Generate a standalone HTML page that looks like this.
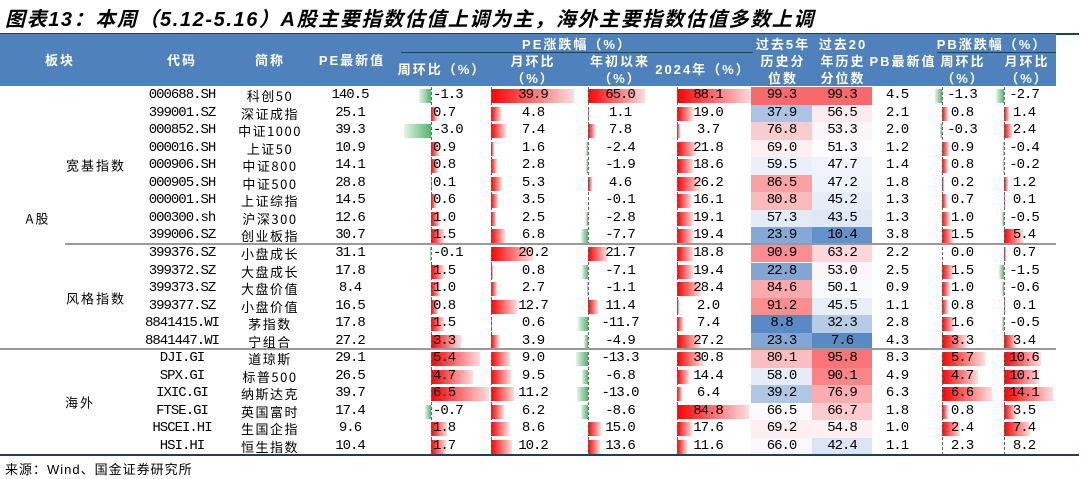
<!DOCTYPE html>
<html><head><meta charset="utf-8"><style>
*{margin:0;padding:0;box-sizing:border-box}
body{width:1086px;height:479px;background:#fff;position:relative;overflow:hidden;font-family:"Liberation Mono","Noto Sans CJK SC",monospace;color:#000}
.title{position:absolute;left:5px;top:3px;font:italic bold 20px "Liberation Sans","Noto Sans CJK SC",sans-serif;letter-spacing:1.6px;white-space:nowrap}
.hd{position:absolute;left:0;top:34px;width:1056px;height:52px;background:#4f81bd}
.ht{position:absolute;color:#fff;font:bold 13px "Liberation Sans","Noto Sans CJK SC",sans-serif;letter-spacing:2px;text-align:center;width:100px;line-height:17px;white-space:nowrap}
.hl{position:absolute;height:1px;background:#1f3f5f}
.r{position:absolute;left:0;width:1086px;height:17.55px}
.r i{position:absolute;top:0;height:17.55px;line-height:17.55px;font-style:normal;font-size:14px;letter-spacing:-1px;text-align:center;white-space:nowrap}
.k{left:137px;width:90px}
.nm{left:225px;width:90px;font-family:"Noto Sans CJK SC",sans-serif!important;font-size:13px!important;letter-spacing:1.5px!important;overflow:hidden}
.pe{left:310px;width:80px}
.wk{left:433px;text-align:left!important}
.mo{left:493px;width:80px}
.yt{left:580px;width:80px}
.y4{left:668px;width:80px}
.h5{left:751px;width:61px}
.h20{left:812px;width:60px}
.pb{left:860px;width:74px}
.pw{left:922px;width:80px}
.pm{left:984px;width:80px}
.r b{position:absolute;top:2px;height:14px}
.p{background:linear-gradient(90deg,#ff0000,#ffdede)}
.n{background:linear-gradient(270deg,#52b56c,#e4f4e8)}
.ax{position:absolute;top:87px;height:368px;width:0;border-left:1px dashed #666}
.lab{position:absolute;font:13px "Noto Sans CJK SC",sans-serif;letter-spacing:2px;white-space:nowrap;transform:translate(-50%,-50%)}
.gl{position:absolute;height:2px;background:#999}
</style></head><body>
<div class="title">图表13：本周（5.12-5.16）A股主要指数估值上调为主，海外主要指数估值多数上调</div>
<div class="hl" style="left:0;top:33px;width:1079px;height:2px;background:#1f3f5f"></div>
<div class="hd"></div>
<div class="ht" style="left:10px;top:52px">板块</div>
<div class="ht" style="left:132px;top:52px">代码</div>
<div class="ht" style="left:220px;top:52px">简称</div>
<div class="ht" style="left:302px;top:52px">PE最新值</div>
<div class="ht" style="left:502px;top:36px;width:150px">PE涨跌幅（%）</div>
<div class="hl" style="left:401px;top:52px;width:352px"></div>
<div class="ht" style="left:392px;top:61px">周环比（%）</div>
<div class="ht" style="left:483px;top:53px">月环比<br>（%）</div>
<div class="ht" style="left:570px;top:53px">年初以来<br>（%）</div>
<div class="ht" style="left:653px;top:61px">2024年（%）</div>
<div class="ht" style="left:733px;top:36px">过去5年<br>历史分<br>位数</div>
<div class="ht" style="left:793px;top:36px">过去20<br>年历史<br>分位数</div>
<div class="ht" style="left:853px;top:53px">PB最新值</div>
<div class="ht" style="left:932px;top:36px;width:120px">PB涨跌幅（%）</div>
<div class="hl" style="left:937px;top:52px;width:119px"></div>
<div class="ht" style="left:913px;top:53px">周环比<br>（%）</div>
<div class="ht" style="left:977px;top:53px">月环比<br>（%）</div>

<div class="lab" style="left:38px;top:218px">A股</div>
<div class="lab" style="left:96px;top:165px">宽基指数</div>
<div class="lab" style="left:96px;top:298px">风格指数</div>
<div class="lab" style="left:80px;top:402px">海外</div>

<div class="r" style="top:87px"><b class="n" style="left:419px;width:12px"></b><b class="p" style="left:491px;width:83px"></b><b class="p" style="left:588px;width:57px"></b><b class="p" style="left:677px;width:75px"></b><b style="left:751px;top:0;height:17.55px;width:61px;background:#f8696b"></b><b style="left:812px;top:0;height:17.55px;width:60px;background:#f8696b"></b><b class="n" style="left:935px;width:7px"></b><b class="n" style="left:996px;width:8px"></b>
<i class="k">000688.SH</i><i class="nm">科创50</i><i class="pe">140.5</i><i class="wk">-1.3</i><i class="mo">39.9</i><i class="yt">65.0</i><i class="y4">88.1</i><i class="h5">99.3</i><i class="h20">99.3</i><i class="pb">4.5</i><i class="pw">-1.3</i><i class="pm">-2.7</i></div>

<div class="r" style="top:104.55px"><b class="p" style="left:431px;width:6px"></b><b class="p" style="left:491px;width:10px"></b><b class="p" style="left:588px;width:1px"></b><b class="p" style="left:677px;width:16px"></b><b style="left:751px;top:0;height:17.55px;width:61px;background:rgb(172,196,227)"></b><b style="left:812px;top:0;height:17.55px;width:60px;background:rgb(252,235,238)"></b><b class="p" style="left:942px;width:6px"></b><b class="p" style="left:1004px;width:5px"></b>
<i class="k">399001.SZ</i><i class="nm">深证成指</i><i class="pe">25.1</i><i class="wk">0.7</i><i class="mo">4.8</i><i class="yt">1.1</i><i class="y4">19.0</i><i class="h5">37.9</i><i class="h20">56.5</i><i class="pb">2.1</i><i class="pw">0.8</i><i class="pm">1.4</i></div>

<div class="r" style="top:122.1px"><b class="n" style="left:404px;width:27px"></b><b class="p" style="left:491px;width:15px"></b><b class="p" style="left:588px;width:7px"></b><b class="p" style="left:677px;width:3px"></b><b style="left:751px;top:0;height:17.55px;width:61px;background:rgb(251,204,207)"></b><b style="left:812px;top:0;height:17.55px;width:60px;background:rgb(252,245,248)"></b><b class="n" style="left:940px;width:2px"></b><b class="p" style="left:1004px;width:8px"></b>
<i class="k">000852.SH</i><i class="nm">中证1000</i><i class="pe">39.3</i><i class="wk">-3.0</i><i class="mo">7.4</i><i class="yt">7.8</i><i class="y4">3.7</i><i class="h5">76.8</i><i class="h20">53.3</i><i class="pb">2.0</i><i class="pw">-0.3</i><i class="pm">2.4</i></div>

<div class="r" style="top:139.65px"><b class="p" style="left:431px;width:8px"></b><b class="p" style="left:491px;width:3px"></b><b class="n" style="left:586px;width:2px"></b><b class="p" style="left:677px;width:19px"></b><b style="left:751px;top:0;height:17.55px;width:61px;background:rgb(252,239,242)"></b><b style="left:812px;top:0;height:17.55px;width:60px;background:rgb(252,251,254)"></b><b class="p" style="left:942px;width:7px"></b><b class="n" style="left:1003px;width:1px"></b>
<i class="k">000016.SH</i><i class="nm">上证50</i><i class="pe">10.9</i><i class="wk">0.9</i><i class="mo">1.6</i><i class="yt">-2.4</i><i class="y4">21.8</i><i class="h5">69.0</i><i class="h20">51.3</i><i class="pb">1.2</i><i class="pw">0.9</i><i class="pm">-0.4</i></div>

<div class="r" style="top:157.2px"><b class="p" style="left:431px;width:7px"></b><b class="p" style="left:491px;width:6px"></b><b class="n" style="left:586px;width:2px"></b><b class="p" style="left:677px;width:16px"></b><b style="left:751px;top:0;height:17.55px;width:61px;background:rgb(234,239,248)"></b><b style="left:812px;top:0;height:17.55px;width:60px;background:rgb(240,243,251)"></b><b class="p" style="left:942px;width:6px"></b><b class="n" style="left:1003px;width:1px"></b>
<i class="k">000906.SH</i><i class="nm">中证800</i><i class="pe">14.1</i><i class="wk">0.8</i><i class="mo">2.8</i><i class="yt">-1.9</i><i class="y4">18.6</i><i class="h5">59.5</i><i class="h20">47.7</i><i class="pb">1.4</i><i class="pw">0.8</i><i class="pm">-0.2</i></div>

<div class="r" style="top:174.75px"><b class="p" style="left:431px;width:1px"></b><b class="p" style="left:491px;width:11px"></b><b class="p" style="left:588px;width:4px"></b><b class="p" style="left:677px;width:22px"></b><b style="left:751px;top:0;height:17.55px;width:61px;background:rgb(250,161,164)"></b><b style="left:812px;top:0;height:17.55px;width:60px;background:rgb(238,242,250)"></b><b class="p" style="left:942px;width:2px"></b><b class="p" style="left:1004px;width:4px"></b>
<i class="k">000905.SH</i><i class="nm">中证500</i><i class="pe">28.8</i><i class="wk">0.1</i><i class="mo">5.3</i><i class="yt">4.6</i><i class="y4">26.2</i><i class="h5">86.5</i><i class="h20">47.2</i><i class="pb">1.8</i><i class="pw">0.2</i><i class="pm">1.2</i></div>

<div class="r" style="top:192.3px"><b class="p" style="left:431px;width:5px"></b><b class="p" style="left:491px;width:7px"></b><b class="p" style="left:677px;width:14px"></b><b style="left:751px;top:0;height:17.55px;width:61px;background:rgb(250,187,189)"></b><b style="left:812px;top:0;height:17.55px;width:60px;background:rgb(230,237,247)"></b><b class="p" style="left:942px;width:5px"></b><b class="p" style="left:1004px;width:1px"></b>
<i class="k">000001.SH</i><i class="nm">上证综指</i><i class="pe">14.5</i><i class="wk">0.6</i><i class="mo">3.5</i><i class="yt">-0.1</i><i class="y4">16.1</i><i class="h5">80.8</i><i class="h20">45.2</i><i class="pb">1.3</i><i class="pw">0.7</i><i class="pm">0.1</i></div>

<div class="r" style="top:209.85px"><b class="p" style="left:431px;width:9px"></b><b class="p" style="left:491px;width:5px"></b><b class="n" style="left:586px;width:2px"></b><b class="p" style="left:677px;width:16px"></b><b style="left:751px;top:0;height:17.55px;width:61px;background:rgb(227,235,246)"></b><b style="left:812px;top:0;height:17.55px;width:60px;background:rgb(224,232,245)"></b><b class="p" style="left:942px;width:8px"></b><b class="n" style="left:1002px;width:2px"></b>
<i class="k">000300.sh</i><i class="nm">沪深300</i><i class="pe">12.6</i><i class="wk">1.0</i><i class="mo">2.5</i><i class="yt">-2.8</i><i class="y4">19.1</i><i class="h5">57.3</i><i class="h20">43.5</i><i class="pb">1.3</i><i class="pw">1.0</i><i class="pm">-0.5</i></div>

<div class="r" style="top:227.4px"><b class="p" style="left:431px;width:13px"></b><b class="p" style="left:491px;width:14px"></b><b class="n" style="left:581px;width:7px"></b><b class="p" style="left:677px;width:16px"></b><b style="left:751px;top:0;height:17.55px;width:61px;background:rgb(133,168,213)"></b><b style="left:812px;top:0;height:17.55px;width:60px;background:rgb(101,145,202)"></b><b class="p" style="left:942px;width:11px"></b><b class="p" style="left:1004px;width:19px"></b>
<i class="k">399006.SZ</i><i class="nm">创业板指</i><i class="pe">30.7</i><i class="wk">1.5</i><i class="mo">6.8</i><i class="yt">-7.7</i><i class="y4">19.4</i><i class="h5">23.9</i><i class="h20">10.4</i><i class="pb">3.8</i><i class="pw">1.5</i><i class="pm">5.4</i></div>

<div class="r" style="top:244.95px"><b class="n" style="left:430px;width:1px"></b><b class="p" style="left:491px;width:42px"></b><b class="p" style="left:588px;width:19px"></b><b class="p" style="left:677px;width:16px"></b><b style="left:751px;top:0;height:17.55px;width:61px;background:rgb(249,142,144)"></b><b style="left:812px;top:0;height:17.55px;width:60px;background:rgb(251,215,218)"></b><b class="p" style="left:1004px;width:2px"></b>
<i class="k">399376.SZ</i><i class="nm">小盘成长</i><i class="pe">31.1</i><i class="wk">-0.1</i><i class="mo">20.2</i><i class="yt">21.7</i><i class="y4">18.8</i><i class="h5">90.9</i><i class="h20">63.2</i><i class="pb">2.2</i><i class="pw">0.0</i><i class="pm">0.7</i></div>

<div class="r" style="top:262.5px"><b class="p" style="left:431px;width:13px"></b><b class="p" style="left:491px;width:2px"></b><b class="n" style="left:582px;width:6px"></b><b class="p" style="left:677px;width:16px"></b><b style="left:751px;top:0;height:17.55px;width:61px;background:rgb(130,166,212)"></b><b style="left:812px;top:0;height:17.55px;width:60px;background:rgb(252,246,249)"></b><b class="p" style="left:942px;width:11px"></b><b class="n" style="left:999px;width:5px"></b>
<i class="k">399372.SZ</i><i class="nm">大盘成长</i><i class="pe">17.8</i><i class="wk">1.5</i><i class="mo">0.8</i><i class="yt">-7.1</i><i class="y4">19.4</i><i class="h5">22.8</i><i class="h20">53.0</i><i class="pb">2.5</i><i class="pw">1.5</i><i class="pm">-1.5</i></div>

<div class="r" style="top:280.05px"><b class="p" style="left:431px;width:9px"></b><b class="p" style="left:491px;width:6px"></b><b class="n" style="left:587px;width:1px"></b><b class="p" style="left:677px;width:24px"></b><b style="left:751px;top:0;height:17.55px;width:61px;background:rgb(250,170,172)"></b><b style="left:812px;top:0;height:17.55px;width:60px;background:rgb(249,250,254)"></b><b class="p" style="left:942px;width:8px"></b><b class="n" style="left:1002px;width:2px"></b>
<i class="k">399373.SZ</i><i class="nm">大盘价值</i><i class="pe">8.4</i><i class="wk">1.0</i><i class="mo">2.7</i><i class="yt">-1.1</i><i class="y4">28.4</i><i class="h5">84.6</i><i class="h20">50.1</i><i class="pb">0.9</i><i class="pw">1.0</i><i class="pm">-0.6</i></div>

<div class="r" style="top:297.6px"><b class="p" style="left:431px;width:7px"></b><b class="p" style="left:491px;width:26px"></b><b class="p" style="left:588px;width:10px"></b><b class="p" style="left:677px;width:2px"></b><b style="left:751px;top:0;height:17.55px;width:61px;background:rgb(249,141,143)"></b><b style="left:812px;top:0;height:17.55px;width:60px;background:rgb(231,238,248)"></b><b class="p" style="left:942px;width:6px"></b><b class="p" style="left:1004px;width:1px"></b>
<i class="k">399377.SZ</i><i class="nm">小盘价值</i><i class="pe">16.5</i><i class="wk">0.8</i><i class="mo">12.7</i><i class="yt">11.4</i><i class="y4">2.0</i><i class="h5">91.2</i><i class="h20">45.5</i><i class="pb">1.1</i><i class="pw">0.8</i><i class="pm">0.1</i></div>

<div class="r" style="top:315.15px"><b class="p" style="left:431px;width:13px"></b><b class="p" style="left:491px;width:1px"></b><b class="n" style="left:578px;width:10px"></b><b class="p" style="left:677px;width:6px"></b><b style="left:751px;top:0;height:17.55px;width:61px;background:rgb(90,138,198)"></b><b style="left:812px;top:0;height:17.55px;width:60px;background:rgb(182,203,230)"></b><b class="p" style="left:942px;width:12px"></b><b class="n" style="left:1002px;width:2px"></b>
<i class="k">8841415.WI</i><i class="nm">茅指数</i><i class="pe">17.8</i><i class="wk">1.5</i><i class="mo">0.6</i><i class="yt">-11.7</i><i class="y4">7.4</i><i class="h5">8.8</i><i class="h20">32.3</i><i class="pb">2.8</i><i class="pw">1.6</i><i class="pm">-0.5</i></div>

<div class="r" style="top:332.7px"><b class="p" style="left:431px;width:30px"></b><b class="p" style="left:491px;width:8px"></b><b class="n" style="left:584px;width:4px"></b><b class="p" style="left:677px;width:23px"></b><b style="left:751px;top:0;height:17.55px;width:61px;background:rgb(131,167,212)"></b><b style="left:812px;top:0;height:17.55px;width:60px;background:rgb(90,138,198)"></b><b class="p" style="left:942px;width:25px"></b><b class="p" style="left:1004px;width:12px"></b>
<i class="k">8841447.WI</i><i class="nm">宁组合</i><i class="pe">27.2</i><i class="wk">3.3</i><i class="mo">3.9</i><i class="yt">-4.9</i><i class="y4">27.2</i><i class="h5">23.3</i><i class="h20">7.6</i><i class="pb">4.3</i><i class="pw">3.3</i><i class="pm">3.4</i></div>

<div class="r" style="top:350.25px"><b class="p" style="left:431px;width:49px"></b><b class="p" style="left:491px;width:19px"></b><b class="n" style="left:576px;width:12px"></b><b class="p" style="left:677px;width:26px"></b><b style="left:751px;top:0;height:17.55px;width:61px;background:rgb(250,190,192)"></b><b style="left:812px;top:0;height:17.55px;width:60px;background:rgb(248,116,118)"></b><b class="p" style="left:942px;width:43px"></b><b class="p" style="left:1004px;width:37px"></b>
<i class="k">DJI.GI</i><i class="nm">道琼斯</i><i class="pe">29.1</i><i class="wk">5.4</i><i class="mo">9.0</i><i class="yt">-13.3</i><i class="y4">30.8</i><i class="h5">80.1</i><i class="h20">95.8</i><i class="pb">8.3</i><i class="pw">5.7</i><i class="pm">10.6</i></div>

<div class="r" style="top:367.8px"><b class="p" style="left:431px;width:42px"></b><b class="p" style="left:491px;width:20px"></b><b class="n" style="left:582px;width:6px"></b><b class="p" style="left:677px;width:12px"></b><b style="left:751px;top:0;height:17.55px;width:61px;background:rgb(229,236,247)"></b><b style="left:812px;top:0;height:17.55px;width:60px;background:rgb(249,133,135)"></b><b class="p" style="left:942px;width:36px"></b><b class="p" style="left:1004px;width:35px"></b>
<i class="k">SPX.GI</i><i class="nm">标普500</i><i class="pe">26.5</i><i class="wk">4.7</i><i class="mo">9.5</i><i class="yt">-6.8</i><i class="y4">14.4</i><i class="h5">58.0</i><i class="h20">90.1</i><i class="pb">4.9</i><i class="pw">4.7</i><i class="pm">10.1</i></div>

<div class="r" style="top:385.35px"><b class="p" style="left:431px;width:58px"></b><b class="p" style="left:491px;width:23px"></b><b class="n" style="left:577px;width:11px"></b><b class="p" style="left:677px;width:5px"></b><b style="left:751px;top:0;height:17.55px;width:61px;background:rgb(176,199,228)"></b><b style="left:812px;top:0;height:17.55px;width:60px;background:rgb(250,173,176)"></b><b class="p" style="left:942px;width:50px"></b><b class="p" style="left:1004px;width:49px"></b>
<i class="k">IXIC.GI</i><i class="nm">纳斯达克</i><i class="pe">39.7</i><i class="wk">6.5</i><i class="mo">11.2</i><i class="yt">-13.0</i><i class="y4">6.4</i><i class="h5">39.2</i><i class="h20">76.9</i><i class="pb">6.3</i><i class="pw">6.6</i><i class="pm">14.1</i></div>

<div class="r" style="top:402.9px"><b class="n" style="left:425px;width:6px"></b><b class="p" style="left:491px;width:13px"></b><b class="n" style="left:581px;width:7px"></b><b class="p" style="left:677px;width:72px"></b><b style="left:751px;top:0;height:17.55px;width:61px;background:rgb(252,250,253)"></b><b style="left:812px;top:0;height:17.55px;width:60px;background:rgb(251,204,207)"></b><b class="p" style="left:942px;width:6px"></b><b class="p" style="left:1004px;width:12px"></b>
<i class="k">FTSE.GI</i><i class="nm">英国富时</i><i class="pe">17.4</i><i class="wk">-0.7</i><i class="mo">6.2</i><i class="yt">-8.6</i><i class="y4">84.8</i><i class="h5">66.5</i><i class="h20">66.7</i><i class="pb">1.8</i><i class="pw">0.8</i><i class="pm">3.5</i></div>

<div class="r" style="top:420.45px"><b class="p" style="left:431px;width:16px"></b><b class="p" style="left:491px;width:18px"></b><b class="p" style="left:588px;width:13px"></b><b class="p" style="left:677px;width:15px"></b><b style="left:751px;top:0;height:17.55px;width:61px;background:rgb(252,238,241)"></b><b style="left:812px;top:0;height:17.55px;width:60px;background:rgb(252,240,243)"></b><b class="p" style="left:942px;width:18px"></b><b class="p" style="left:1004px;width:26px"></b>
<i class="k">HSCEI.HI</i><i class="nm">生国企指</i><i class="pe">9.6</i><i class="wk">1.8</i><i class="mo">8.6</i><i class="yt">15.0</i><i class="y4">17.6</i><i class="h5">69.2</i><i class="h20">54.8</i><i class="pb">1.0</i><i class="pw">2.4</i><i class="pm">7.4</i></div>

<div class="r" style="top:438px"><b class="p" style="left:431px;width:15px"></b><b class="p" style="left:491px;width:21px"></b><b class="p" style="left:588px;width:12px"></b><b class="p" style="left:677px;width:10px"></b><b style="left:751px;top:0;height:17.55px;width:61px;background:rgb(248,248,254)"></b><b style="left:812px;top:0;height:17.55px;width:60px;background:rgb(220,229,244)"></b>
<i class="k">HSI.HI</i><i class="nm">恒生指数</i><i class="pe">10.4</i><i class="wk">1.7</i><i class="mo">10.2</i><i class="yt">13.6</i><i class="y4">11.6</i><i class="h5">66.0</i><i class="h20">42.4</i><i class="pb">1.1</i><i class="pw">2.3</i><i class="pm">8.2</i></div>

<div class="ax" style="left:431px"></div>
<div class="ax" style="left:491px"></div>
<div class="ax" style="left:588px"></div>
<div class="ax" style="left:677px"></div>
<div class="ax" style="left:942px"></div>
<div class="ax" style="left:1004px"></div>

<div class="gl" style="left:65px;top:243px;width:991px"></div>
<div class="gl" style="left:0;top:348px;width:1056px"></div>
<div class="hl" style="left:0;top:454px;width:1079px;height:2px;background:#1f3f5f"></div>
<div style="position:absolute;left:5px;top:459px;font:13px 'Liberation Sans','Noto Sans CJK SC',sans-serif;letter-spacing:1px">来源：Wind、国金证券研究所</div>
</body></html>
